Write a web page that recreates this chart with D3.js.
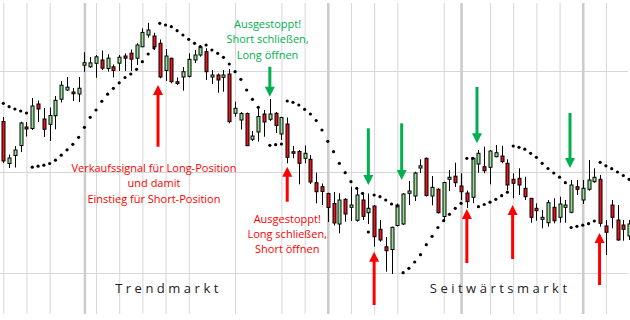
<!DOCTYPE html>
<html>
<head>
    <title>Parabolic SAR Candlestick D3.js</title>
    <script src="https://d3js.org/d3.v7.min.js"></script>
    <style>
        body { margin: 0; background: #fff; }
        #chart-container { width: 630px; height: 320px; }
        .grid line { stroke: #d6d6d6; }
        .grid-thick line { stroke: #cccccc; stroke-width: 2.6; }
        .grid path, .grid-thick path { display: none; }
        text { font-family: "Open Sans", sans-serif; }
    </style>
</head>
<body>
<div id="chart-container"></div>

<script>
    // OHLC per candle (index 0..108)
    const openValues = [
        198.5,156.5,164.5,174.5,193,191.5,216,201,195.7,204.3,
        220.8,230,228,226,254.8,253.2,256.7,260,251.5,253.2,
        256.8,264,266.8,261.8,273.2,285,284,276.7,249.5,261.7,
        238.3,243,243.7,260,265,268.3,243,245,242.7,246,
        206.7,200,206.5,180.7,188,206,200.7,206.7,186,196,
        168.3,168.5,161.7,160.7,137.3,133.3,126.5,116.5,96,120.7,
        112.7,99.7,120,107.3,114,90.7,73.2,70.5,94.5,96,
        126.7,124,152,161.7,124,130.7,103.5,140.7,143.8,134,
        127,122.7,156,153.3,152.7,163.3,164,156.7,140.7,141.7,
        131.7,121.7,111.7,100.7,97.3,112.7,102.7,112.7,107.7,133.3,
        120,130.7,138.3,140.7,94,115,100,95,84
    ];
    const highValues = [
        203,165.5,174,198.3,198,222,219.5,212,212.5,224,
        238.8,243,232,243,267.8,263,265,269.5,265.8,255.5,
        265,266.5,270.5,276.8,291.7,297.2,287.2,280.5,271,262.3,
        242.5,253,266.7,270,275,271.7,250,246.5,250,251,
        218.3,208,207.5,189,213,210,221,208,203.3,202.5,
        174,170,174.5,165,147.3,136.5,127.3,128,126.7,121.7,
        133.3,131,126.7,126.5,115,100,83,93.3,116.5,126.7,
        139,148.3,160.7,162.5,144,131.7,138.3,150,157.3,146.7,
        129.5,162.7,170,173.3,170,175,174.3,160.7,146.7,151.7,
        143.3,121.7,116.7,110,120,121.7,123.3,120,140,140,
        140,160,151.7,145,100,120,115,100,100
    ];
    const lowValues = [
        157,152,152.5,168,183.5,190,198,183,179,190.7,
        217.5,229,219,218,248.2,252.3,242.2,250,248.5,242.5,
        249,249,249,255,273,282.3,270,241.7,239,236.7,
        235,229.3,242.5,257,263.3,240,236,227.3,228.3,196.7,
        203.3,190.5,174.3,179,178.3,183.3,199,187,180,156.7,
        161.7,135.7,156.7,136,116.7,115,98,94.5,86.7,98.3,
        99,98.3,100,96,73.3,78.3,48.3,46,93.5,95,
        115,119,147,123.5,114.7,106.5,98.3,129,133,120,
        112,116.7,147.3,146.7,135.7,162.7,156.7,130,121.7,125,
        120,97.3,99.3,91.7,93.3,96.7,97.3,97.3,106.7,125,
        116,129.3,137.3,93.3,65,91.7,79.3,79.3,80
    ];
    const closeValues = [
        159,162,170,197,191,214,211,190.7,204.5,219.7,
        234.8,232.8,226.2,231.8,257.3,257.1,263.2,251.8,261.8,249.5,
        262.8,261.8,260.8,275,287.6,290,273.2,243,264,238.3,
        236.5,248.3,260.7,265,273,248.3,245,240,245,198.3,
        211.7,206.5,174.3,184,203.5,198,206,194.5,202.5,162.7,
        166.7,156.7,166.7,138,128.3,128.5,112.5,97,120,106,
        115,125,103.7,111.7,83.3,80,69.3,92.7,115,126,
        129,147,154.2,124.5,132.7,107.3,137.5,142.7,137.3,128.3,
        118.3,161.7,166.7,149.3,169,167.3,158.3,135,136.7,135,
        123.3,102.7,109.3,102.7,117.3,99.3,116,115,135,130.7,
        131.7,140,142.7,96.7,87.7,102.7,80,90.7,96
    ];
    // Parabolic SAR per candle (null = hidden)
    const sarValues = [
        216.7,213.3,211,209,207,152.8,153.8,154.8,156.5,159.8,
        164.8,170.2,175.7,182.7,192.7,202.7,210,218.7,225.8,231.7,
        237.2,242.5,246,250.7,258.3,266,272,296.7,295,293.3,
        289.3,285,280.7,276.7,273.3,275,270,266.7,262.7,256,
        248.3,240.7,230,220.7,212.7,null,174.7,175.3,176,219,
        217.7,215,210.7,206,199.5,190,178.7,168.3,156.7,147.3,
        138.3,131.7,126.7,88,125,123.3,120,116,114,47.3,
        51.7,58,65.3,75.3,83.7,92.5,99.3,105.7,111.7,116.7,
        161.7,161.7,113.3,115.5,117.8,120.7,124.3,127.8,174,172.7,
        170.8,166.7,162.7,156.7,151.5,147,142.8,137.3,92.5,93.7,
        94.8,96.3,99,157.7,154.2,151.3,148,144.5,140.7
    ];

    // grid
    const gridPrices = [249, 148, 47];
    const gridIndexThin = [0, 4, 8, 16, 20, 24, 28, 32, 40, 48, 52, 60, 64, 68, 76, 84, 88, 92, 96, 104];
    const gridIndexThick = [14, 56, 79, 100];

    // signal arrows: candle index, tail price, tip price
    const buyArrows = [
        { idx: 46, from: 253.3, to: 223.3 },
        { idx: 63, from: 191.7, to: 135 },
        { idx: 68.75, from: 196.7, to: 140 },
        { idx: 81.75, from: 233, to: 176.7 },
        { idx: 97.8, from: 207, to: 152 }
    ];
    const sellArrows = [
        { idx: 26.7, from: 173.3, to: 235 },
        { idx: 49, from: 118.3, to: 153.3 },
        { idx: 64, from: 15, to: 68.3 },
        { idx: 80, from: 57, to: 111 },
        { idx: 87.9, from: 61, to: 115 },
        { idx: 102.9, from: 35, to: 87 }
    ];

    // annotation texts: centre index, first baseline price
    const notes = [
        { idx: 26, price: 148, color: '#ff0000',
          lines: ['Verkaufssignal für Long-Position', 'und damit', 'Einstieg für Short-Position'] },
        { idx: 45.6, price: 292, color: '#00b050',
          lines: ['Ausgestoppt!', 'Short schließen,', 'Long öffnen'] },
        { idx: 49, price: 97.5, color: '#ff0000',
          lines: ['Ausgestoppt!', 'Long schließen,', 'Short öffnen'] }
    ];
    const marketLabels = [
        { idx: 19.3, text: 'Trendmarkt' },
        { idx: 73.6, text: 'Seitwärtsmarkt' }
    ];

    const width = 630;
    const height = 320;
    const upColor = '#92e092';
    const downColor = '#e8141c';

    const candles = openValues.map((o, i) => ({
        i: i, open: o, high: highValues[i], low: lowValues[i], close: closeValues[i]
    }));

    const svg = d3.select('#chart-container')
        .append('svg')
        .attr('width', width)
        .attr('height', height);

    const xScale = d3.scaleLinear()
        .domain([0, 107])
        .range([3.3, 623.3]);

    const yScale = d3.scaleLinear()
        .domain([0, 320])
        .range([320, 0]);

    // horizontal grid
    svg.append('g')
        .attr('class', 'grid')
        .call(d3.axisRight(yScale)
            .tickValues(gridPrices)
            .tickSize(628)
            .tickFormat(''));

    // vertical grid
    svg.append('g')
        .attr('class', 'grid')
        .attr('transform', 'translate(0,314)')
        .call(d3.axisTop(xScale)
            .tickValues(gridIndexThin)
            .tickSize(311)
            .tickFormat(''));

    svg.append('g')
        .attr('class', 'grid-thick')
        .attr('transform', 'translate(0,314)')
        .call(d3.axisTop(xScale)
            .tickValues(gridIndexThick)
            .tickSize(311)
            .tickFormat(''));

    // wicks
    svg.selectAll('.wick')
        .data(candles)
        .enter()
        .append('line')
        .attr('class', 'wick')
        .attr('x1', d => Math.round(xScale(d.i)) + 0.5)
        .attr('x2', d => Math.round(xScale(d.i)) + 0.5)
        .attr('y1', d => yScale(d.high))
        .attr('y2', d => yScale(d.low))
        .attr('stroke', '#000')
        .attr('stroke-width', 1);

    // bodies
    svg.selectAll('.body')
        .data(candles)
        .enter()
        .append('rect')
        .attr('class', 'body')
        .attr('x', d => Math.round(xScale(d.i)) - 1)
        .attr('y', d => yScale(Math.max(d.open, d.close)))
        .attr('width', 3)
        .attr('height', d => Math.max(1.5, Math.abs(yScale(d.open) - yScale(d.close))))
        .attr('fill', d => d.close >= d.open ? upColor : downColor)
        .attr('stroke', '#000')
        .attr('stroke-width', 1);

    // SAR dots
    svg.selectAll('.sar')
        .data(sarValues.map((v, i) => ({ i: i, v: v })).filter(d => d.v !== null))
        .enter()
        .append('circle')
        .attr('class', 'sar')
        .attr('cx', d => xScale(d.i))
        .attr('cy', d => yScale(d.v))
        .attr('r', 1.6)
        .attr('fill', '#000');

    // arrows
    function drawArrows(list, color) {
        const headLen = 10;
        const headHalf = 5;
        const g = svg.append('g');
        list.forEach(a => {
            const x = xScale(a.idx);
            const y0 = yScale(a.from);
            const y1 = yScale(a.to);
            const dir = y1 > y0 ? 1 : -1;
            g.append('line')
                .attr('x1', x).attr('x2', x)
                .attr('y1', y0).attr('y2', y1 - dir * (headLen - 1))
                .attr('stroke', color)
                .attr('stroke-width', 3);
            g.append('path')
                .attr('d', `M${x},${y1} L${x - headHalf},${y1 - dir * headLen} L${x + headHalf},${y1 - dir * headLen} Z`)
                .attr('fill', color);
        });
    }
    drawArrows(buyArrows, '#00b050');
    drawArrows(sellArrows, '#ff0000');

    // annotation texts
    notes.forEach(n => {
        const t = svg.append('text')
            .attr('text-anchor', 'middle')
            .attr('font-size', '11px')
            .attr('fill', n.color);
        n.lines.forEach((line, k) => {
            t.append('tspan')
                .attr('x', xScale(n.idx))
                .attr('y', yScale(n.price) + k * 15.3)
                .text(line);
        });
    });

    svg.selectAll('.market')
        .data(marketLabels)
        .enter()
        .append('text')
        .attr('class', 'market')
        .attr('x', d => xScale(d.idx))
        .attr('y', 293)
        .attr('font-size', '13px')
        .attr('letter-spacing', '3.5px')
        .attr('fill', '#222')
        .text(d => d.text);
</script>
</body>
</html>
